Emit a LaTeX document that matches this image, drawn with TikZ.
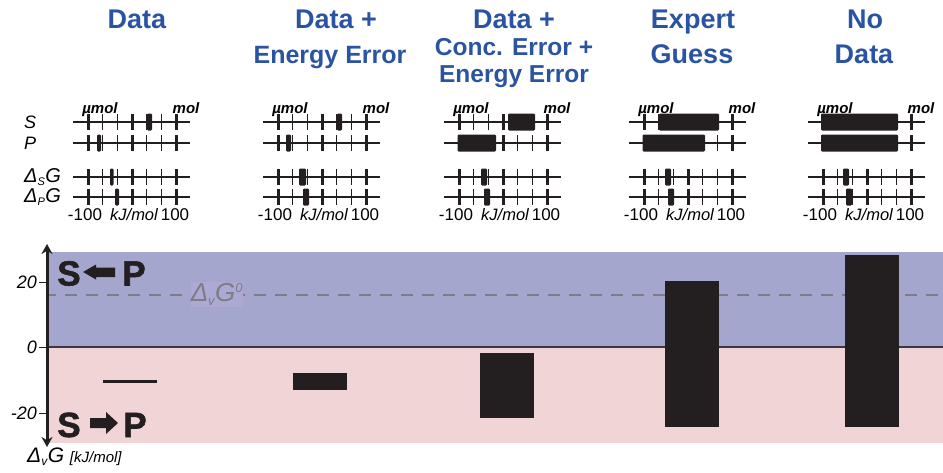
\documentclass[tikz,border=0pt]{standalone}
\usepackage{fontspec}
\setmainfont{Liberation Sans}
\newfontfamily\heavyfont[FakeBold=1.6]{Liberation Sans Bold}
\usetikzlibrary{arrows.meta}

\definecolor{titleblue}{RGB}{42,84,162}
\definecolor{barblack}{RGB}{35,31,32}
\definecolor{upband}{RGB}{164,166,206}
\definecolor{downband}{RGB}{241,212,214}
\definecolor{refgray}{RGB}{125,125,130}
\definecolor{labelbox}{RGB}{172,169,212}
\definecolor{zeroline}{RGB}{60,52,72}

\newcommand{\fs}[1]{\fontsize{#1}{#1}\selectfont}

% one ladder panel: #1 = horizontal offset
\newcommand{\ladder}[1]{%
  \begin{scope}[shift={(#1,0)}]
    \foreach \yy in {122,143,177,197}{
      \draw[ladline] (73,\yy) -- (190,\yy);
      \foreach \i in {0,...,6}{
        \pgfmathsetmacro{\xx}{88+\i*14.67}
        \ifnum\i=0 \draw[majtick] (\xx,\yy-8) -- (\xx,\yy+8);
        \else\ifnum\i=3 \draw[majtick] (\xx,\yy-8) -- (\xx,\yy+8);
        \else\ifnum\i=6 \draw[majtick] (\xx,\yy-8) -- (\xx,\yy+8);
        \else \draw[mintick] (\xx,\yy-8) -- (\xx,\yy+8);
        \fi\fi\fi
      }
    }
    \node[unitlab] (umol#1) at (100,113) {µmol};
    \node[unitlab] (mol#1) at (186,113) {mol};
    \node[scalelab] (lo#1) at (85,220) {-100};
    \node[scalelab, font=\itshape\fs{16.5}] (kj#1) at (134,220) {kJ/mol};
    \node[scalelab] (hi#1) at (175,220) {100};
  \end{scope}}

% distribution box on a ladder line: #1 = line y, #2 = left x, #3 = right x
\newcommand{\distbox}[3]{%
  \fill[barblack, rounded corners=1.2pt] (#2,#1-8.5) rectangle (#3,#1+8.5);}

\begin{document}
\begin{tikzpicture}[x=1pt,y=-1pt,
  title/.style={text=titleblue, font=\bfseries\fs{27}, anchor=base, inner sep=0pt},
  subtitle/.style={title, font=\bfseries\fs{25}},
  smalltitle/.style={title, font=\bfseries\fs{24.5}},
  ladline/.style={line width=1.6pt, barblack},
  majtick/.style={line width=3pt, barblack},
  mintick/.style={line width=1.3pt, barblack},
  unitlab/.style={font=\bfseries\itshape\fs{15}, anchor=base, inner sep=0pt},
  scalelab/.style={font=\fs{17}, anchor=base, inner sep=0pt},
  sidelab/.style={font=\itshape\fs{20}, anchor=west, inner sep=0pt},
  bar/.style={fill=barblack},
  ticklab/.style={font=\itshape\fs{18}, anchor=east, inner sep=0pt},
  bigletter/.style={font=\heavyfont\fs{35}, anchor=base, inner sep=0pt, text=barblack},
  fatarrow/.style={fill=barblack}
]
\useasboundingbox (0,0) rectangle (943,472);

% ---- column titles ----
\node[title] (t1) at (137,28) {Data};
\node[title] (t2a) at (336,28) {Data +};
\node[subtitle] (t2b) at (330,63) {Energy Error};
\node[title] (t3a) at (514,28) {Data +};
\node[smalltitle] (t3b) at (514,55) {Conc. Error +};
\node[smalltitle] (t3c) at (514,82) {Energy Error};
\node[title] (t4a) at (693,28) {Expert};
\node[title] (t4b) at (692,63) {Guess};
\node[title] (t5a) at (865,28) {No};
\node[title] (t5b) at (864,63) {Data};

% ---- row labels ----
\node[sidelab, font=\itshape\fs{18}] (lS) at (24,122) {S};
\node[sidelab, font=\itshape\fs{18}] (lP) at (24,143) {P};
\node[sidelab] (lDS) at (24,177) {Δ\textsubscript{\fs{11}S}G};
\node[sidelab] (lDP) at (24,197) {Δ\textsubscript{\fs{11}P}G};

% ---- ladders ----
\ladder{0}
\ladder{190}
\ladder{371}
\ladder{556}
\ladder{735}

% distributions: S, P, Delta_S G, Delta_P G
\distbox{122}{147}{152}   \distbox{143}{97}{101}
\distbox{177}{110}{113.5} \distbox{197}{115}{119}

\distbox{122}{337}{342}   \distbox{143}{286}{291}
\distbox{177}{299}{306}   \distbox{197}{303}{309}

\distbox{122}{508}{535}   \distbox{143}{457.5}{496}
\distbox{177}{481}{487}   \distbox{197}{484}{490}

\distbox{122}{659}{719}   \distbox{143}{642.5}{705}
\distbox{177}{665}{671}   \distbox{197}{668}{674}

\distbox{122}{821}{898}   \distbox{143}{821}{898}
\distbox{177}{843}{849}   \distbox{197}{846}{852}

% ---- lower chart: bands ----
\fill[upband] (47,252) rectangle (943,347);
\fill[downband] (47,347) rectangle (943,443);
\coordinate (z0) at (47,347);
\coordinate (z1) at (943,347);
\draw[zeroline, line width=1.1pt] (z0) -- (z1);

% reference free energy
\coordinate (d0) at (48,295);
\coordinate (d1) at (943,295);
\draw[refgray, line width=2.4pt, dash pattern=on 12pt off 9pt, dash phase=4pt] (d0) -- (d1);
\node[fill=labelbox, text=refgray, font=\itshape\fs{26}, inner sep=0pt,
      minimum width=52pt, minimum height=25pt] (dg0) at (217,294.5)
      {Δ\textsubscript{\fs{13}v}G\textsuperscript{\fs{13}0}};

% ---- bars ----
\fill[bar] (103,379.5) rectangle (157,383);
\fill[bar] (293,373) rectangle (347,390);
\fill[bar] (480,353) rectangle (534,418);
\fill[bar] (665,281) rectangle (719,427);
\fill[bar] (845,255) rectangle (899,427);

% ---- axis ----
\coordinate (axtop) at (47,244);
\coordinate (axbot) at (47,447);
\draw[barblack, line width=3pt, {Stealth[length=10pt,width=11pt]}-{Stealth[length=10pt,width=11pt]}] (axtop) -- (axbot);
\foreach \yy/\lab in {282/20, 347/0, 413/-20}{
  \draw[barblack, line width=1pt] (39,\yy) -- (47,\yy);
  \node[ticklab] (tick\lab) at (37,\yy) {\lab};
}
\node[font=\itshape\fs{21}, anchor=base west, inner sep=0pt] (axlab) at (27,462)
  {Δ\textsubscript{\fs{12}v}G \fs{15}[kJ/mol]};

% ---- reaction direction markers ----
\node[bigletter] (s1) at (69,285.5) {S};
\node[bigletter] (p1) at (134,285.5) {P};
\fill[fatarrow] (83,272) -- (96,264.5) -- (96,267.5) -- (115,267.5) -- (115,277) -- (96,277) -- (96,279.5) -- cycle;
\node[bigletter] (s2) at (69,437) {S};
\node[bigletter] (p2) at (135,437) {P};
\fill[fatarrow] (90,418) -- (106,418) -- (106,412) -- (118,423) -- (106,434) -- (106,428) -- (90,428) -- cycle;
\end{tikzpicture}
\end{document}
